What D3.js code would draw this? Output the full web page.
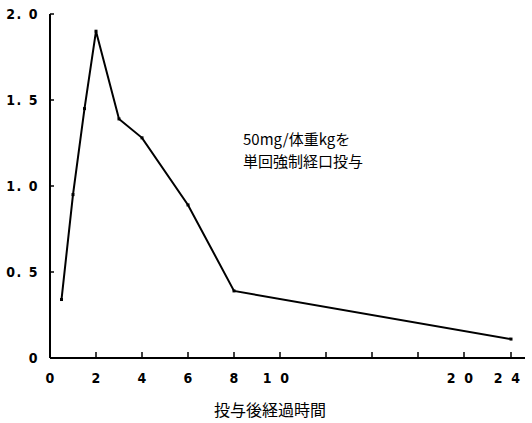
<!DOCTYPE html>
<html>
<head>
<meta charset="utf-8">
<script src="https://cdn.jsdelivr.net/npm/d3@7"></script>
<style>
  body { margin: 0; background: #fff; }
  svg { display: block; }
</style>
</head>
<body>
<svg id="chart" width="532" height="423"></svg>
<script>
// hours after dosing, concentration
const hours = [0.5, 1, 1.5, 2, 3, 4, 6, 8, 24]
const conc = [0.34, 0.95, 1.45, 1.9, 1.39, 1.28, 0.89, 0.39, 0.11]

const yTicks = [0, 0.5, 1.0, 1.5, 2.0]
const yTickLabels = ['0', '0. 5', '1. 0', '1. 5', '2. 0']
const xTicks = [0, 2, 4, 6, 8, 10, 12.5, 15, 17.5, 20, 24]
const xTickLabels = ['0', '2', '4', '6', '8', '1  0', '', '', '', '2  0', '2  4']

const note = ['50mg/体重kgを', '単回強制経口投与']
const xTitle = '投与後経過時間'

const svg = d3.select('#chart')
const tickFont = '"DejaVu Sans Condensed", "DejaVu Sans", sans-serif'
const jpFont = '"Noto Sans CJK JP", sans-serif'

// broken time axis: 0-10 linear, then compressed up to 24
const x = d3.scaleLinear()
  .domain([0, 10, 20, 24])
  .range([50, 280, 464, 511])

const y = d3.scaleLinear()
  .domain([0, 2])
  .range([358, 14])

// y axis
const yAxis = svg.append('g').attr('transform', 'translate(50,0)')
yAxis.append('line')
  .attr('x1', 0).attr('x2', 0)
  .attr('y1', y(2)).attr('y2', y(0))
  .style('stroke', '#000')
  .style('stroke-width', 2)

yAxis.selectAll('.ytick')
  .data(yTicks)
  .enter()
  .append('line')
  .classed('ytick', true)
  .attr('x1', 0).attr('x2', 4)
  .attr('y1', d => y(d)).attr('y2', d => y(d))
  .style('stroke', '#000')
  .style('stroke-width', 1.5)

yAxis.selectAll('.ylabel')
  .data(yTicks)
  .enter()
  .append('text')
  .classed('ylabel', true)
  .attr('x', -11)
  .attr('y', d => y(d) + 5)
  .attr('text-anchor', 'end')
  .style('font-family', tickFont)
  .style('font-weight', 'bold')
  .style('font-size', '14px')
  .style('letter-spacing', '1.5px')
  .style('white-space', 'pre')
  .text((d, i) => yTickLabels[i])

// x axis
const xAxis = svg.append('g')
xAxis.append('line')
  .attr('x1', x(0)).attr('x2', 525)
  .attr('y1', y(0)).attr('y2', y(0))
  .style('stroke', '#000')
  .style('stroke-width', 2)

xAxis.selectAll('.xtick')
  .data(xTicks)
  .enter()
  .append('line')
  .classed('xtick', true)
  .attr('x1', d => x(d)).attr('x2', d => x(d))
  .attr('y1', y(0)).attr('y2', y(0) - 6)
  .style('stroke', '#000')
  .style('stroke-width', 1.5)

xAxis.selectAll('.xlabel')
  .data(xTicks)
  .enter()
  .append('text')
  .classed('xlabel', true)
  .attr('x', d => x(d) - (d >= 10 ? 4 : 0))
  .attr('y', 383)
  .attr('text-anchor', 'middle')
  .style('font-family', tickFont)
  .style('font-weight', 'bold')
  .style('font-size', '14px')
  .style('white-space', 'pre')
  .text((d, i) => xTickLabels[i])

// data line
const pts = hours.map((h, i) => [x(h), y(conc[i])])
svg.append('path')
  .attr('d', d3.line()(pts))
  .style('fill', 'none')
  .style('stroke', '#000')
  .style('stroke-width', 2)

svg.selectAll('.pt')
  .data(pts)
  .enter()
  .append('rect')
  .classed('pt', true)
  .attr('x', d => d[0] - 1.5)
  .attr('y', d => d[1] - 1.5)
  .attr('width', 3)
  .attr('height', 3)
  .style('fill', '#000')

// annotation
svg.selectAll('.note')
  .data(note)
  .enter()
  .append('text')
  .classed('note', true)
  .attr('x', 243)
  .attr('y', (d, i) => 145 + i * 22)
  .style('font-family', jpFont)
  .style('font-size', '15px')
  .text(d => d)

svg.append('text')
  .attr('x', 270)
  .attr('y', 416)
  .attr('text-anchor', 'middle')
  .style('font-family', jpFont)
  .style('font-size', '16px')
  .text(xTitle)
</script>
</body>
</html>
